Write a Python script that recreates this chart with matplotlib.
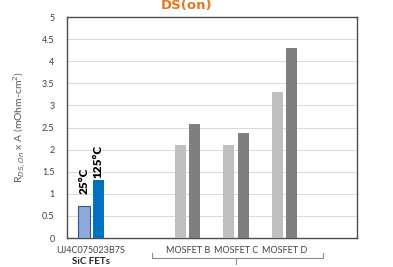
import numpy as np
import matplotlib.pyplot as plt

plt.rcParams['font.family'] = ['Lato', 'DejaVu Sans']

# R_DS(on) x Area
devices = ["UJ4C075023B7S", "MOSFET B", "MOSFET C", "MOSFET D"]
slots = [0, 2, 3, 4]
r_25 = [0.72, 2.10, 2.10, 3.30]
r_125 = [1.31, 2.57, 2.38, 4.30]
temp_labels = ["25°C", "125°C"]

fig = plt.figure(figsize=(3.93, 2.67), dpi=100)
ax = fig.add_axes([0.1705, 0.1086, 0.7375, 0.8277])

w = 0.23
off = 0.148
light = ["#8FAADC", "#BFBFBF", "#BFBFBF", "#BFBFBF"]
dark = ["#0070C0", "#7F7F7F", "#7F7F7F", "#7F7F7F"]
edge = ["#2F5597", "none", "none", "none"]
x = np.array(slots)
ax.bar(x - off, r_25, w, color=light, edgecolor=edge, linewidth=0.8, zorder=3)
ax.bar(x + off, r_125, w, color=dark, zorder=3)

# temperature tags over the SiC bars
ax.text(x[0] - off, r_25[0] + 0.28, temp_labels[0], rotation=90, ha='center', va='bottom',
        fontsize=8.5, fontweight='heavy', color='black')
ax.text(x[0] + off, r_125[0] + 0.05, temp_labels[1], rotation=90, ha='center', va='bottom',
        fontsize=8.5, fontweight='heavy', color='black')

ax.set_xlim(-0.5, 5.5)
ax.set_ylim(0, 5)
ax.set_yticks(np.arange(0, 5.01, 0.5))
ax.set_yticklabels(["0", "0.5", "1", "1.5", "2", "2.5", "3", "3.5", "4", "4.5", "5"])
ax.set_xticks(slots)
ax.set_xticklabels(devices)
ax.tick_params(axis='both', length=0, labelsize=6.5, colors='#404040', pad=6)
ax.tick_params(axis='y', pad=9)
ax.grid(axis='y', color='#D9D9D9', linewidth=0.7, zorder=0)
for s in ax.spines.values():
    s.set_color('#4D4D4D')
    s.set_linewidth(1.0)

ax.set_ylabel("R$_{DS,On}$ x A (mOhm-cm$^2$)", fontsize=7.5, color='#595959', labelpad=10)

ax.text(x[0], -0.105, "SiC FETs", transform=ax.get_xaxis_transform(), ha='center', va='center',
        fontsize=7, fontweight='bold', color='#262626')

# brace under the MOSFETs
tr = ax.get_xaxis_transform()
bc = '#8C8C8C'
ax.plot([1.25, 1.25, 4.8, 4.8], [-0.068, -0.09, -0.09, -0.068], color=bc, lw=0.8,
        transform=tr, clip_on=False)
ax.plot([3.0, 3.0], [-0.09, -0.118], color=bc, lw=0.8, transform=tr, clip_on=False)

# title subscript, cut off at the top like in the reference
fig.text(0.41, 0.968, "DS(on)", ha='left', va='baseline', fontsize=9.5,
         fontweight='bold', color='#E87722', family='DejaVu Sans')

fig.savefig("out.png", dpi=100)
